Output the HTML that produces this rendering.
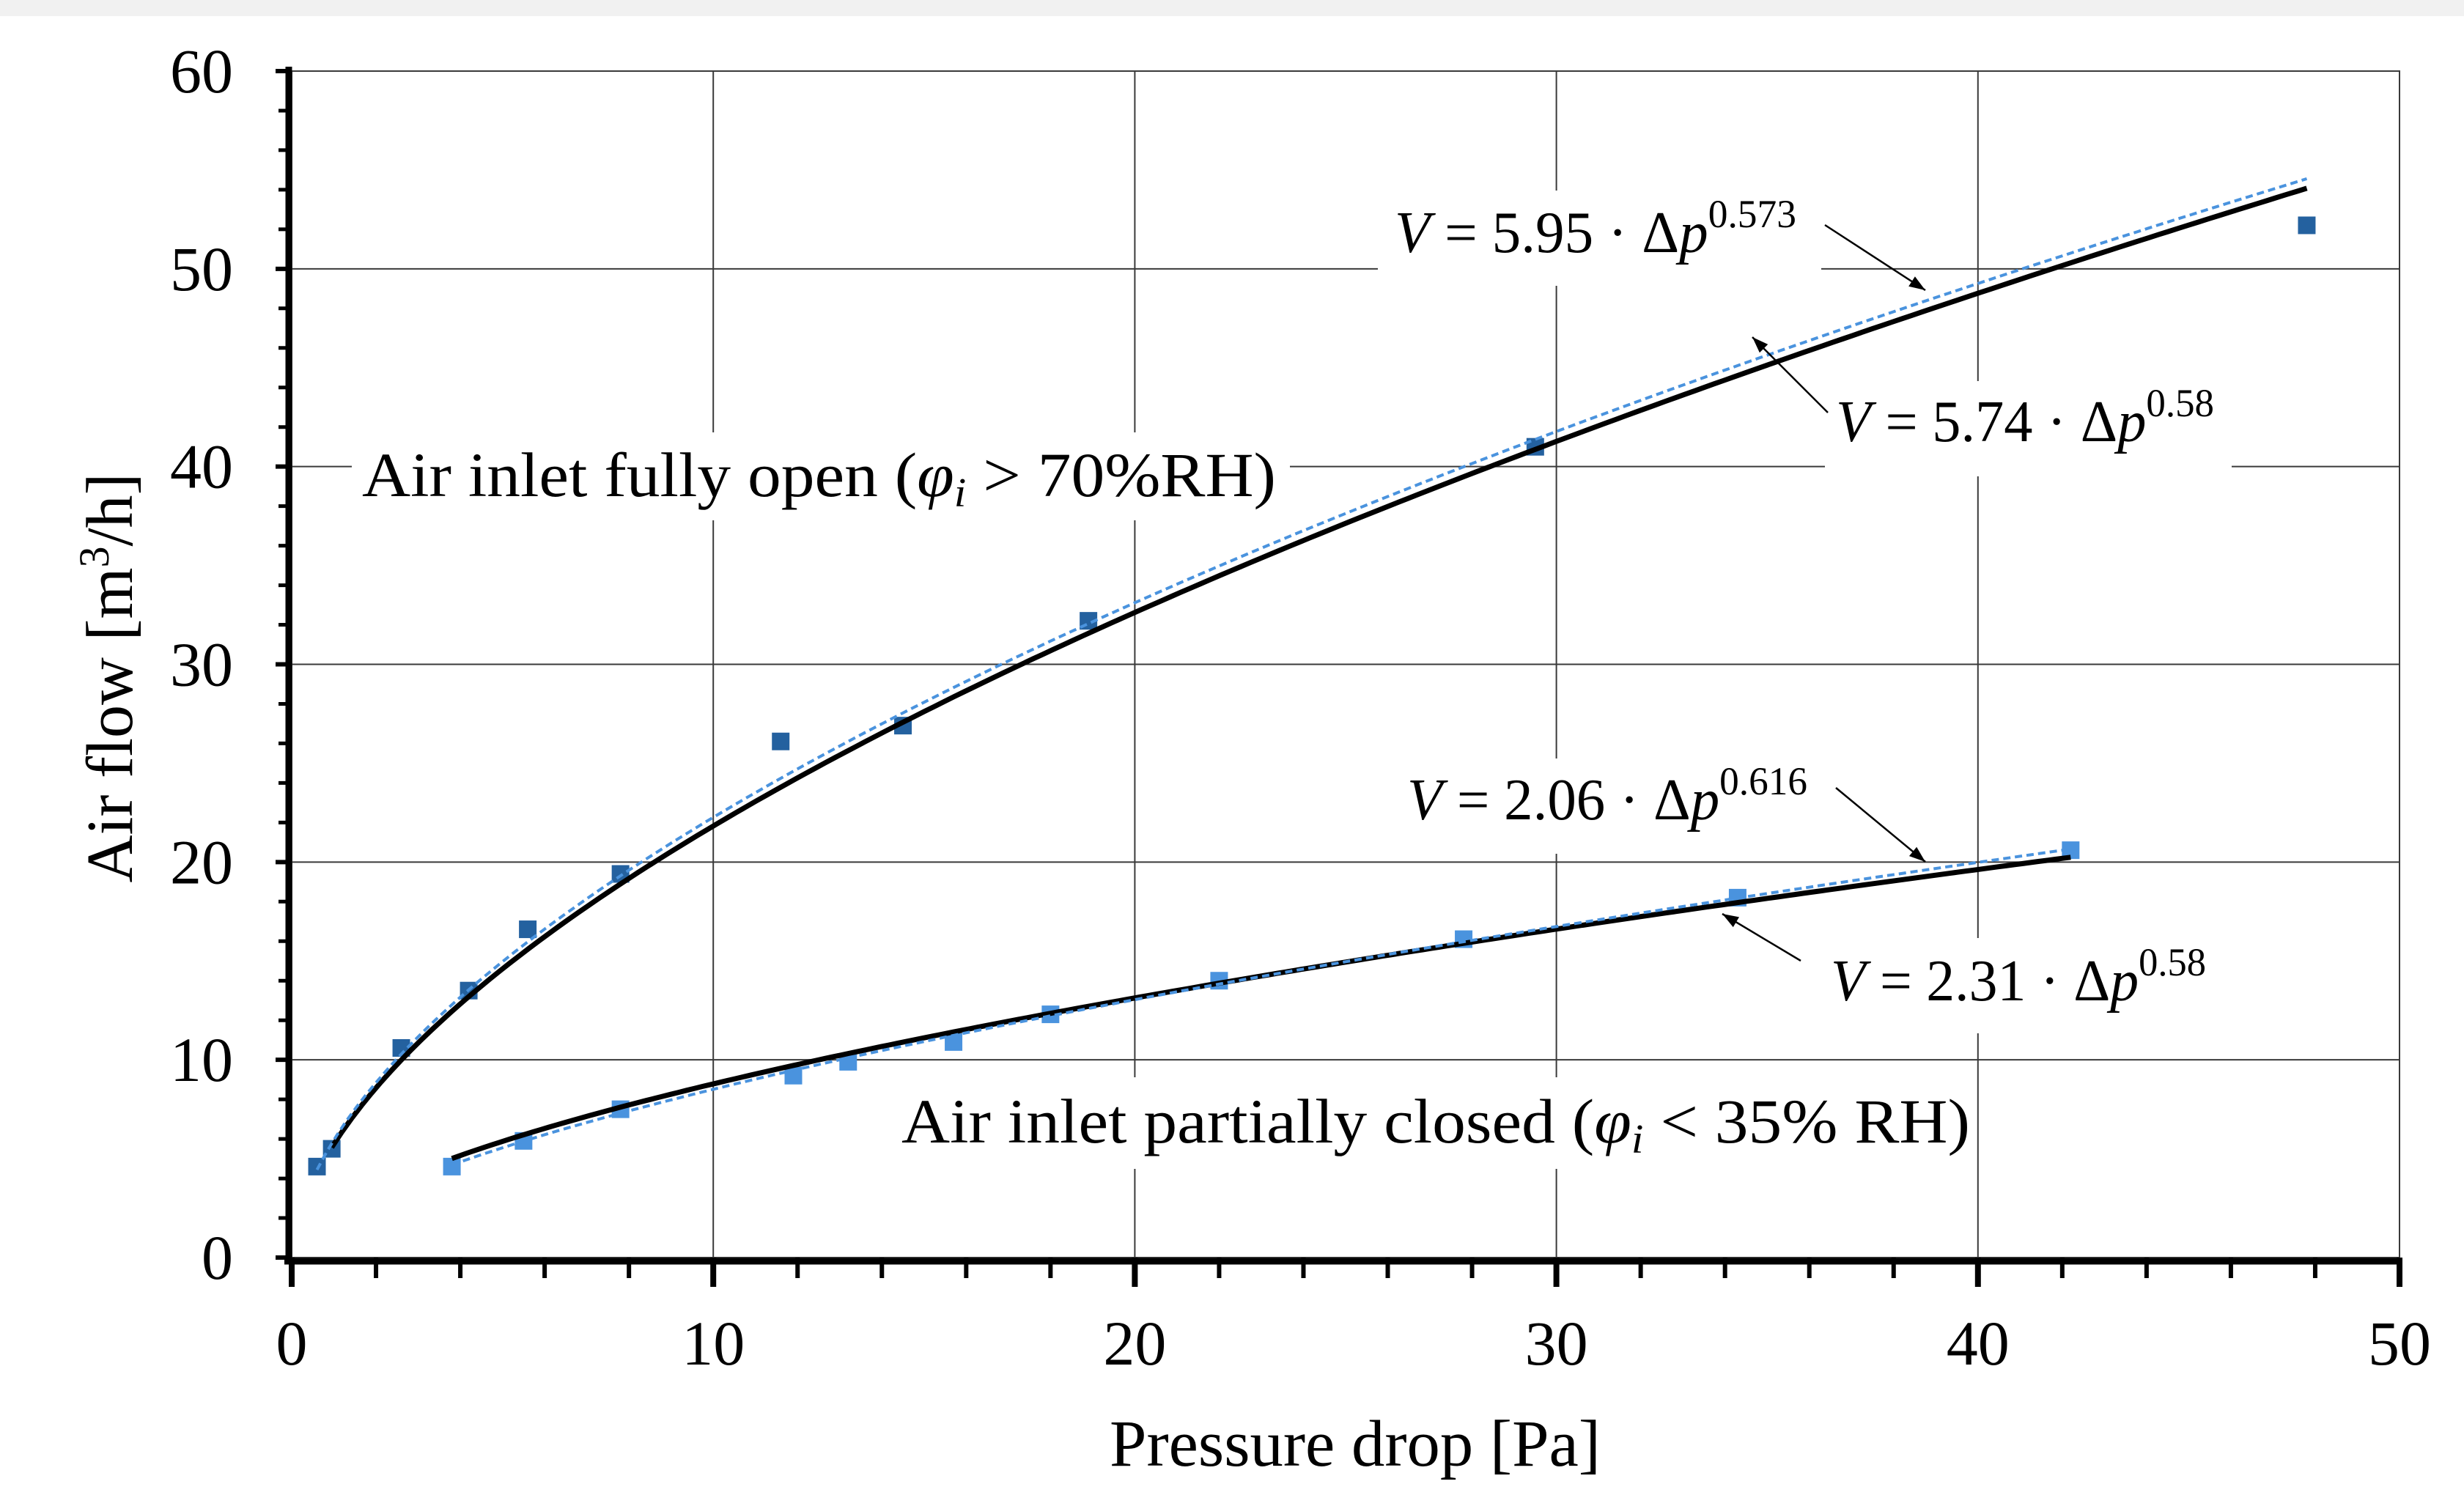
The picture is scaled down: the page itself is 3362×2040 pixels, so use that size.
<!DOCTYPE html>
<html><head><meta charset="utf-8"><style>
html,body{margin:0;padding:0;background:#fff;}
svg{display:block;font-family:"Liberation Serif",serif;}
</style></head><body>
<svg id="chart" width="3362" height="2040" viewBox="0 0 3362 2040">
<rect x="0" y="0" width="3362" height="22" fill="#f1f1f1"/>
<g id="grid"></g>
<g id="series"></g>
<g id="annot"></g>
<g id="axes"></g>
</svg>
<script>
const xTicks=[0,10,20,30,40,50];
const yTicks=[0,10,20,30,40,50,60];
const openX=[0.6,0.95,2.6,4.2,5.6,7.8,11.6,14.5,18.9,29.5,47.8];
const openY=[4.6,5.5,10.6,13.5,16.6,19.4,26.1,26.9,32.2,41.0,52.2];
const closedX=[3.8,5.5,7.8,11.9,13.2,15.7,18.0,22.0,27.8,34.3,42.2];
const closedY=[4.6,5.9,7.5,9.2,9.9,10.9,12.3,14.0,16.1,18.2,20.6];
const fitOpenSolid=[5.74,0.58,0.95,47.8];
const fitOpenDash=[5.95,0.573,0.6,47.8];
const fitClosedSolid=[2.31,0.58,3.8,42.2];
const fitClosedDash=[2.06,0.616,3.8,42.2];

const NS="http://www.w3.org/2000/svg";
const X0=398,X1=3274,Y0=1716,Y1=97;
const sx=v=>X0+(v-0)/(50-0)*(X1-X0);
const sy=v=>Y0-(v-0)/(60-0)*(Y0-Y1);
function mk(tag,attrs,parent,text){const e=document.createElementNS(NS,tag);for(const k in attrs)e.setAttribute(k,attrs[k]);if(text!==undefined)e.textContent=text;parent.appendChild(e);return e;}
const grid=document.getElementById('grid'),series=document.getElementById('series'),annot=document.getElementById('annot'),axes=document.getElementById('axes');

xTicks.slice(1).forEach(t=>{const l=mk('line',{x1:sx(t),x2:sx(t),y1:Y1,y2:Y0,stroke:'#3a3a3a','stroke-width':2},grid);

});
yTicks.slice(1).forEach(t=>{const l=mk('line',{x1:X0,x2:X1,y1:sy(t),y2:sy(t),stroke:'#3a3a3a','stroke-width':2},grid);

});

function fitPath(f,stroke,w,dash,name){let d='';const n=200;for(let i=0;i<=n;i++){const x=f[2]+(f[3]-f[2])*i/n;const y=f[0]*Math.pow(x,f[1]);d+=(i?'L':'M')+sx(x).toFixed(1)+','+sy(y).toFixed(1);}
const p=mk('path',{d:d,fill:'none',stroke:stroke,'stroke-width':w},series);if(dash)p.setAttribute('stroke-dasharray',dash);

}
function markers(xs,ys,color,name){xs.forEach((x,i)=>{const r=mk('rect',{x:sx(x)-12,y:sy(ys[i])-12,width:24,height:24,fill:color},series);

});}
markers(openX,openY,'#24619f','fully-open');
markers(closedX,closedY,'#4a93de','partially-closed');
fitPath(fitOpenSolid,'#000',7,null,'fully-open-fit-solid');
fitPath(fitOpenDash,'#4a93de',4,'10,6','fully-open-fit-dashed');
fitPath(fitClosedSolid,'#000',7,null,'partially-closed-fit-solid');
fitPath(fitClosedDash,'#4a93de',4,'10,6','partially-closed-fit-dashed');

function eq(x,yb,coef,exp,name,w){
 const t=mk('text',{x:x,y:yb,'font-size':80,fill:'#000',textLength:w,lengthAdjust:'spacingAndGlyphs'},annot);
 
 
 mk('tspan',{'font-style':'italic'},t,'V');
 mk('tspan',{},t,' = '+coef+' · Δ');
 mk('tspan',{'font-style':'italic'},t,'p');
 mk('tspan',{dy:-34,'font-size':54},t,exp);
}
mk('rect',{x:1880,y:260,width:605,height:130,fill:'#fff'},annot);
eq(1903,344,'5.95','0.573','equation-open-dashed',548);
mk('rect',{x:2490,y:520,width:555,height:130,fill:'#fff'},annot);
eq(2505,602,'5.74','0.58','equation-open-solid',516);
mk('rect',{x:1905,y:1035,width:575,height:130,fill:'#fff'},annot);
eq(1920,1118,'2.06','0.616','equation-closed-dashed',546);
mk('rect',{x:2485,y:1280,width:555,height:130,fill:'#fff'},annot);
eq(2498,1365,'2.31','0.58','equation-closed-solid',512);

mk('rect',{x:480,y:590,width:1280,height:120,fill:'#fff'},annot);
const t1=mk('text',{x:494,y:677,'font-size':86,fill:'#000',textLength:1247,lengthAdjust:'spacingAndGlyphs'},annot);


mk('tspan',{},t1,'Air inlet fully open (');mk('tspan',{'font-style':'italic'},t1,'φ');mk('tspan',{'font-style':'italic','font-size':56,dy:14},t1,'i');mk('tspan',{dy:-14},t1,' > 70%RH)');
mk('rect',{x:1215,y:1470,width:1480,height:125,fill:'#fff'},annot);
const t2=mk('text',{x:1230,y:1559,'font-size':86,fill:'#000',textLength:1458,lengthAdjust:'spacingAndGlyphs'},annot);


mk('tspan',{},t2,'Air inlet partially closed (');mk('tspan',{'font-style':'italic'},t2,'φ');mk('tspan',{'font-style':'italic','font-size':56,dy:14},t2,'i');mk('tspan',{dy:-14},t2,' < 35% RH)');

[[2490,307,2627,396,'arrow-open-dashed'],[2494,563,2391,460,'arrow-open-solid'],[2505,1075,2627,1176,'arrow-closed-dashed'],[2457,1311,2350,1247,'arrow-closed-solid']].forEach(a=>{
 const l=mk('line',{x1:a[0],y1:a[1],x2:a[2],y2:a[3],stroke:'#000','stroke-width':2.5},annot);
 const dx=a[2]-a[0],dy=a[3]-a[1],L=Math.hypot(dx,dy),ux=dx/L,uy=dy/L;
 mk('path',{d:`M${a[2]},${a[3]}L${a[2]-ux*22-uy*8},${a[3]-uy*22+ux*8}L${a[2]-ux*22+uy*8},${a[3]-uy*22-ux*8}z`,fill:'#000'},annot);
 
 
});

mk('rect',{x:X0,y:Y1,width:X1-X0,height:Y0-Y1,fill:'none',stroke:'#3a3a3a','stroke-width':2},axes);
mk('line',{x1:X0-4,x2:X0-4,y1:Y1-6,y2:Y0+8,stroke:'#000','stroke-width':9},axes);
mk('line',{x1:X0-10,x2:X1+4,y1:Y0+5,y2:Y0+5,stroke:'#000','stroke-width':9},axes);
for(let v=0;v<=60;v+=2){const maj=v%10===0;mk('line',{x1:X0-(maj?22:18),x2:X0,y1:sy(v),y2:sy(v),stroke:'#000','stroke-width':maj?6:5},axes);}
for(let v=0;v<=50;v+=2){mk('line',{x1:sx(v),x2:sx(v),y1:Y0,y2:Y0+28,stroke:'#000','stroke-width':6},axes);}
xTicks.forEach(t=>{mk('line',{x1:sx(t),x2:sx(t),y1:Y0,y2:Y0+40,stroke:'#000','stroke-width':8},axes);
 const e=mk('text',{x:sx(t),y:1862,'font-size':86,'text-anchor':'middle'},axes,String(t));
 
 });
yTicks.forEach(t=>{const e=mk('text',{x:318,y:sy(t)+29,'font-size':86,'text-anchor':'end'},axes,String(t));
 
 });
const xt=mk('text',{x:1849,y:2000,'font-size':90,'text-anchor':'middle',textLength:670,lengthAdjust:'spacingAndGlyphs'},axes,'Pressure drop [Pa]');


const yt=mk('text',{x:0,y:0,'font-size':90,'text-anchor':'middle',transform:'translate(180,925) rotate(-90)'},axes);


mk('tspan',{},yt,'Air flow [m');mk('tspan',{'font-size':58,dy:-32},yt,'3');mk('tspan',{dy:32},yt,'/h]');
</script>
</body></html>
